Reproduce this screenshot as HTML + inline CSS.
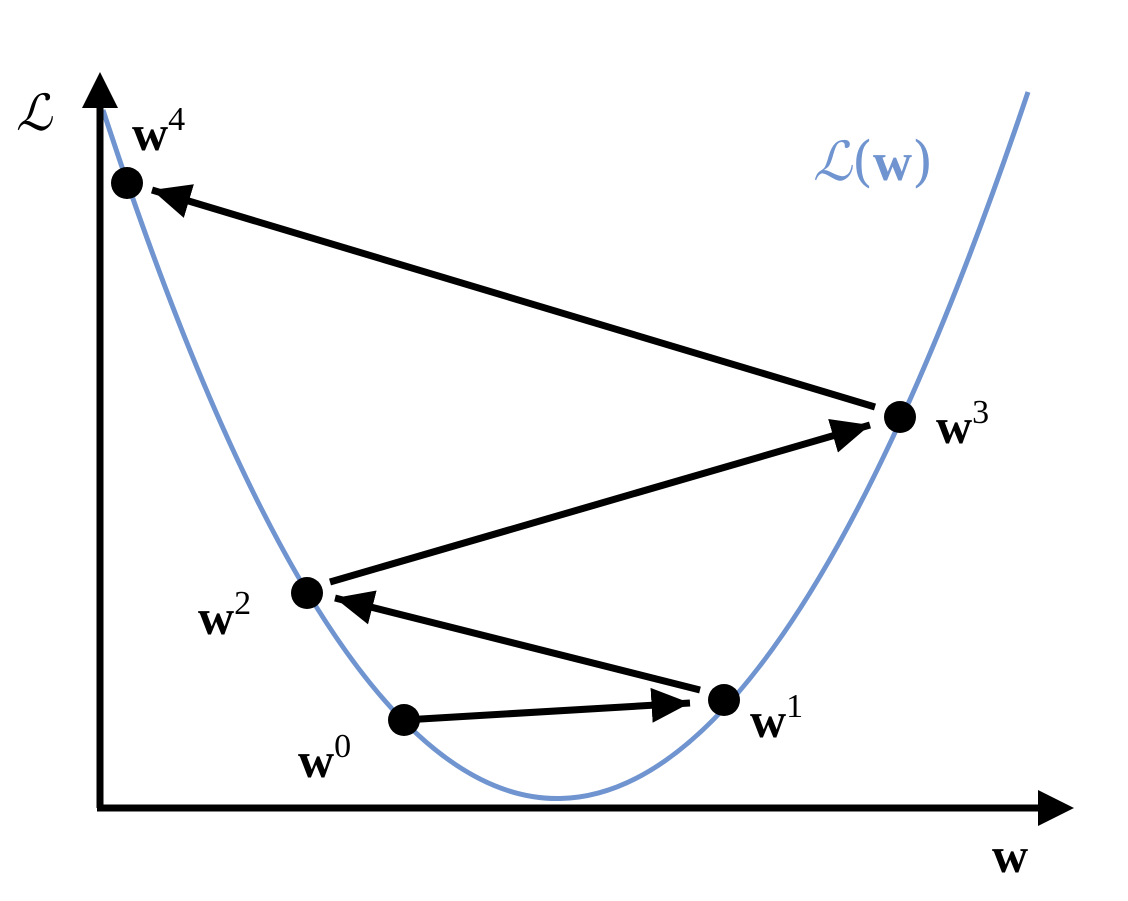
<!DOCTYPE html>
<html><head><style>html,body{margin:0;padding:0;background:#fff}</style></head>
<body>
<svg width="1128" height="896" viewBox="0 0 1128 896" xmlns="http://www.w3.org/2000/svg">
<defs>
<marker id="ah" markerWidth="6" markerHeight="6" refX="5.5" refY="2.5" orient="auto" markerUnits="strokeWidth">
<path d="M0,0 L5.5,2.5 L0,5 Z" fill="#000"/>
</marker>
</defs>
<path d="M103,110 Q555,1496 1028,92" fill="none" stroke="#6f94cf" stroke-width="5"/>
<line x1="100" y1="808" x2="100" y2="105" stroke="#000" stroke-width="7"/>
<path d="M100,72 L82,108 L118,108 Z" fill="#000"/>
<line x1="97" y1="808" x2="1040" y2="808" stroke="#000" stroke-width="7"/>
<path d="M1074,808 L1038,790 L1038,826 Z" fill="#000"/>
<g stroke="#000" stroke-width="7">
<line x1="404" y1="720" x2="690" y2="703" marker-end="url(#ah)"/>
<line x1="700" y1="690" x2="335" y2="598" marker-end="url(#ah)"/>
<line x1="330" y1="582" x2="870" y2="425" marker-end="url(#ah)"/>
<line x1="875" y1="407" x2="152" y2="190" marker-end="url(#ah)"/>
</g>
<g fill="#000">
<circle cx="404" cy="720" r="16"/>
<circle cx="724" cy="700" r="16"/>
<circle cx="307" cy="593" r="16"/>
<circle cx="900" cy="417" r="16"/>
<circle cx="127" cy="183" r="16"/>
</g>
<g font-family="Liberation Serif, serif" font-weight="bold" font-size="50" fill="#000">
<text x="132" y="150">w<tspan font-size="34" font-weight="normal" dy="-20">4</tspan></text>
<text x="936" y="443">w<tspan font-size="34" font-weight="normal" dy="-20">3</tspan></text>
<text x="198" y="634">w<tspan font-size="34" font-weight="normal" dy="-20">2</tspan></text>
<text x="298" y="777">w<tspan font-size="34" font-weight="normal" dy="-20">0</tspan></text>
<text x="750" y="737">w<tspan font-size="34" font-weight="normal" dy="-20">1</tspan></text>
<text x="992" y="872">w</text>
</g>
<text x="16" y="130" font-family="DejaVu Serif, serif" font-style="italic" font-size="50" fill="#000">ℒ</text>
<text x="813" y="180" font-family="DejaVu Serif, serif" font-size="54" fill="#6f94cf"><tspan font-style="italic">ℒ</tspan>(<tspan font-family="Liberation Serif, serif" font-weight="bold">w</tspan>)</text>
</svg>
</body></html>
